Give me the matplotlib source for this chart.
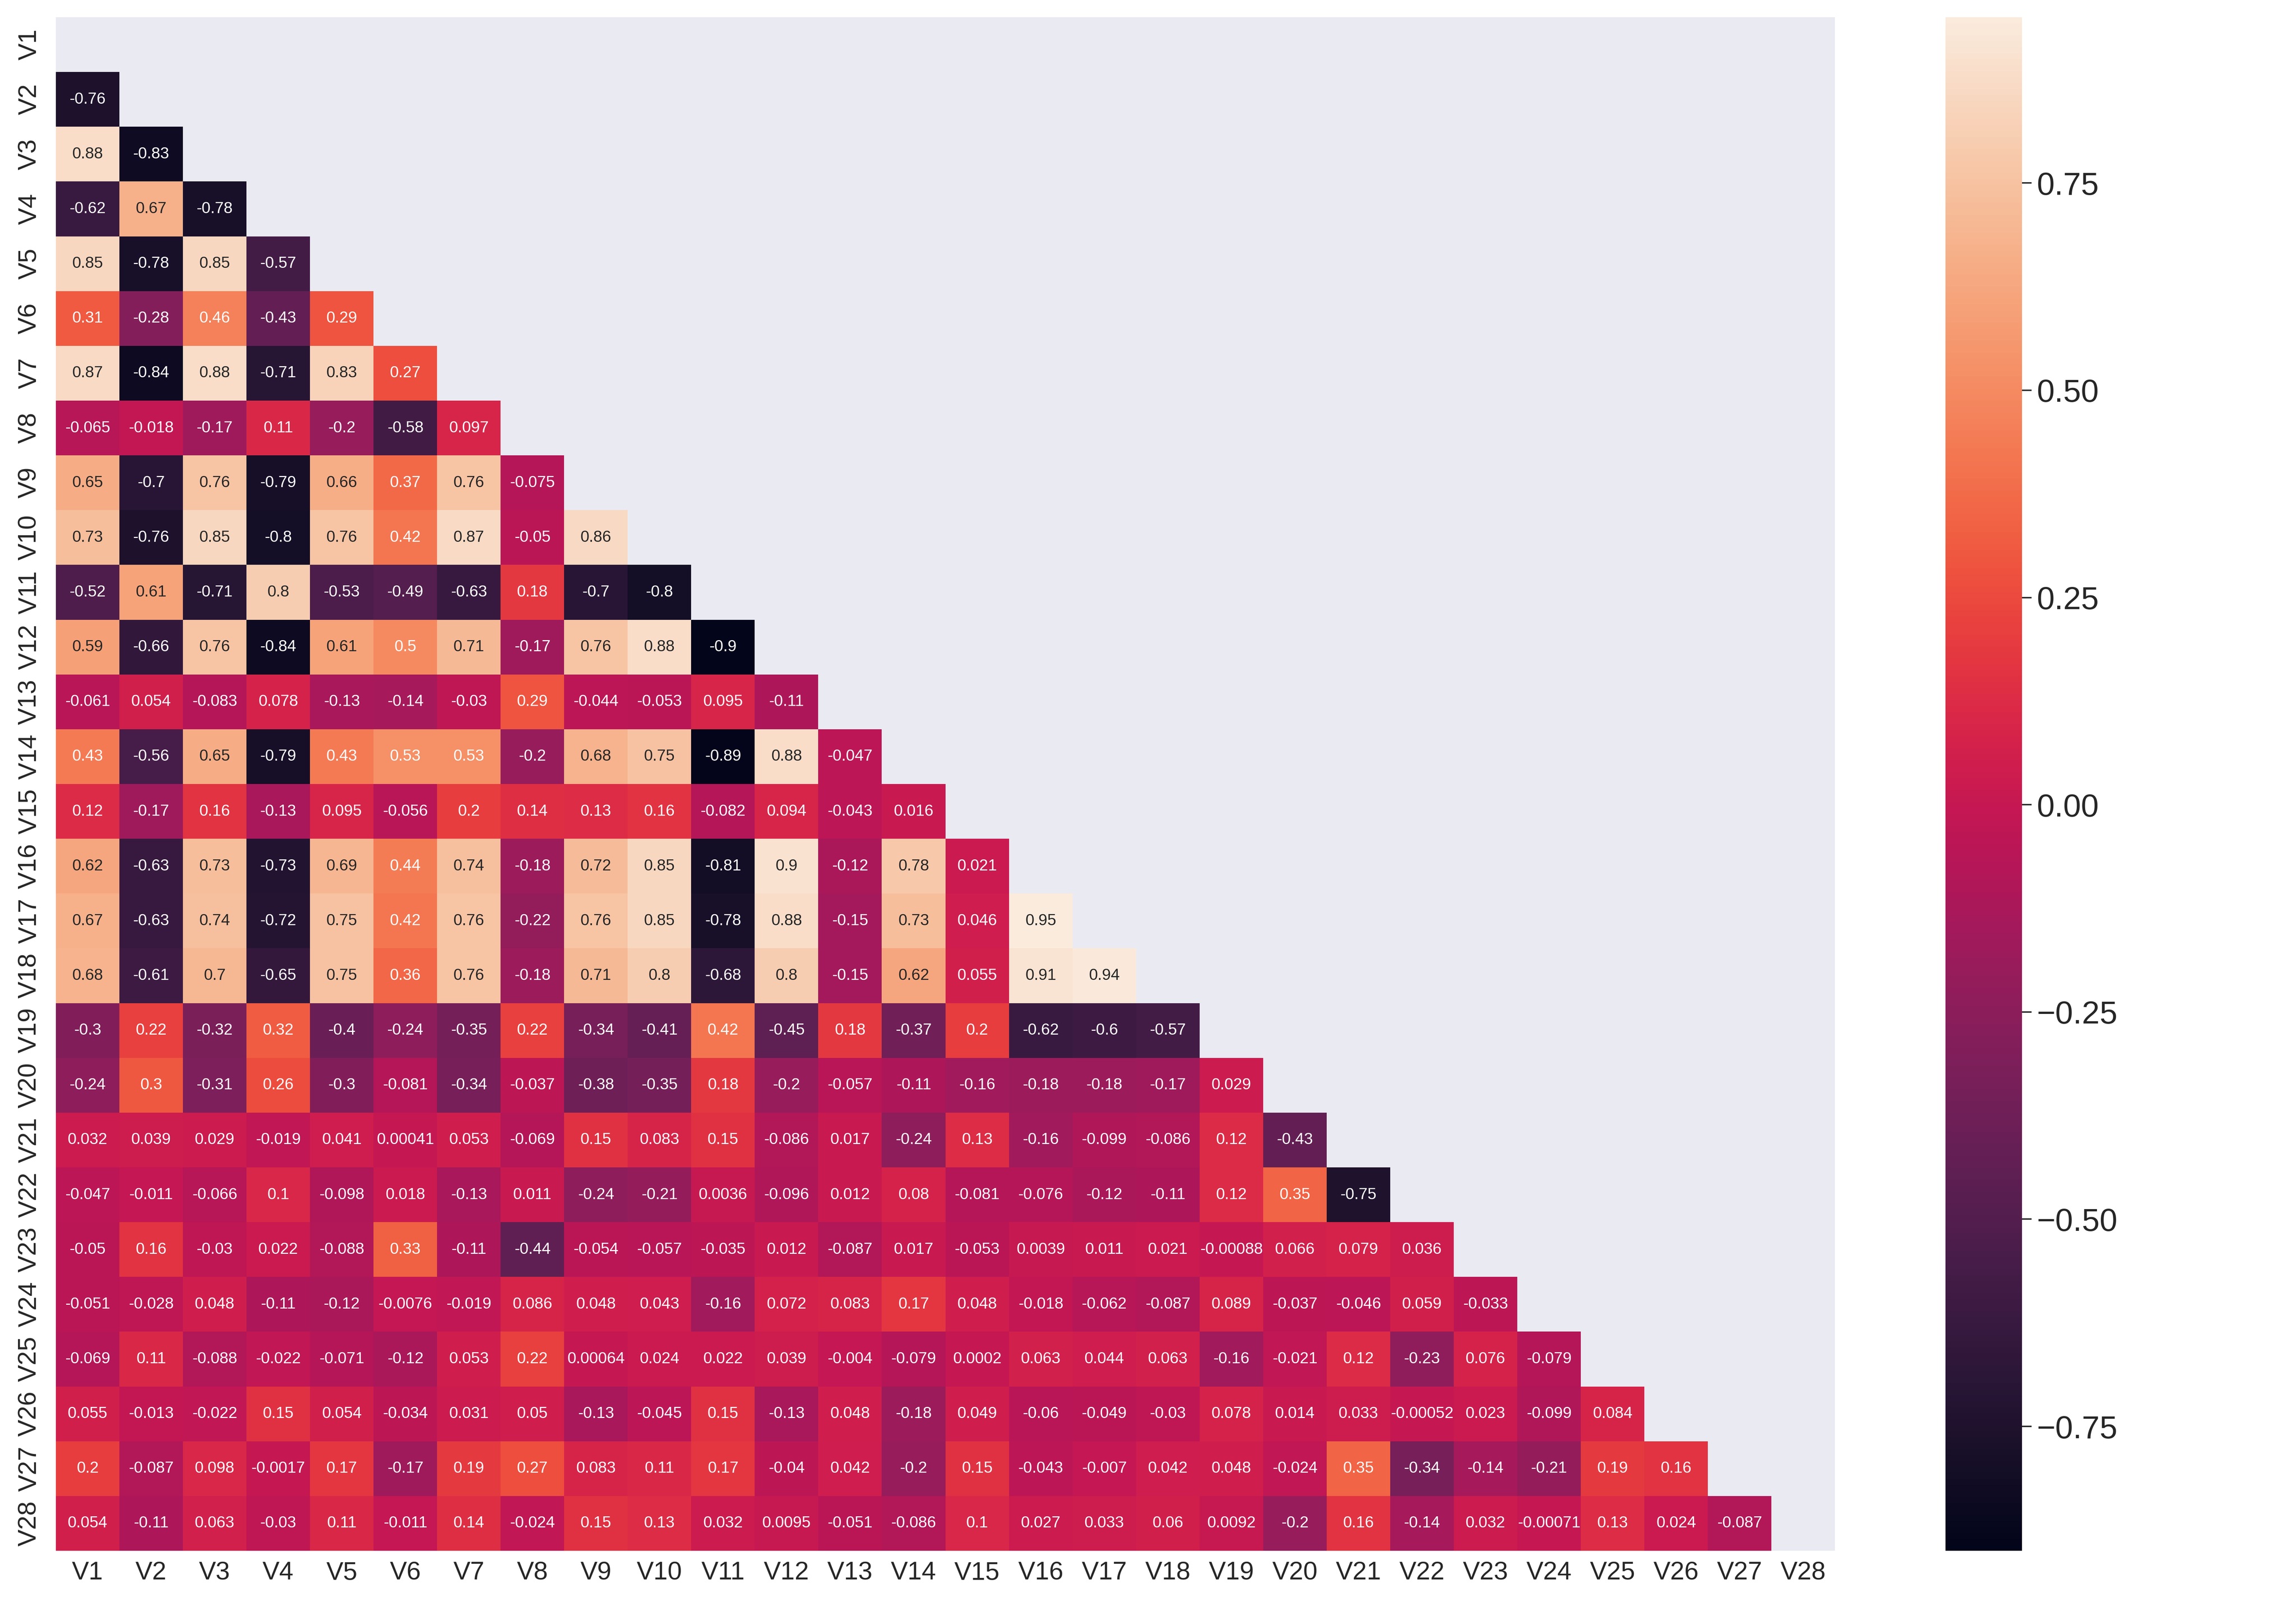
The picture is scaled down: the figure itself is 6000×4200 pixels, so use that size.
import numpy as np
import matplotlib
matplotlib.use('Agg')
import matplotlib.pyplot as plt
import seaborn as sns

#%% Données : triangle inférieur de la matrice de corrélation

labels = ['V%d' % i for i in range(1, 29)]

v2 = [-0.76]
v3 = [0.88, -0.83]
v4 = [-0.62, 0.67, -0.78]
v5 = [0.85, -0.78, 0.85, -0.57]
v6 = [0.31, -0.28, 0.46, -0.43, 0.29]
v7 = [0.87, -0.84, 0.88, -0.71, 0.83, 0.27]
v8 = [-0.065, -0.018, -0.17, 0.11, -0.2, -0.58, 0.097]
v9 = [0.65, -0.7, 0.76, -0.79, 0.66, 0.37, 0.76, -0.075]
v10 = [0.73, -0.76, 0.85, -0.8, 0.76, 0.42, 0.87, -0.05, 0.86]
v11 = [-0.52, 0.61, -0.71, 0.8, -0.53, -0.49, -0.63, 0.18, -0.7, -0.8]
v12 = [0.59, -0.66, 0.76, -0.84, 0.61, 0.5, 0.71, -0.17, 0.76, 0.88, -0.9]
v13 = [-0.061, 0.054, -0.083, 0.078, -0.13, -0.14, -0.03, 0.29, -0.044, -0.053,
       0.095, -0.11]
v14 = [0.43, -0.56, 0.65, -0.79, 0.43, 0.53, 0.53, -0.2, 0.68, 0.75, -0.89, 0.88,
       -0.047]
v15 = [0.12, -0.17, 0.16, -0.13, 0.095, -0.056, 0.2, 0.14, 0.13, 0.16, -0.082,
       0.094, -0.043, 0.016]
v16 = [0.62, -0.63, 0.73, -0.73, 0.69, 0.44, 0.74, -0.18, 0.72, 0.85, -0.81, 0.9,
       -0.12, 0.78, 0.021]
v17 = [0.67, -0.63, 0.74, -0.72, 0.75, 0.42, 0.76, -0.22, 0.76, 0.85, -0.78, 0.88,
       -0.15, 0.73, 0.046, 0.95]
v18 = [0.68, -0.61, 0.7, -0.65, 0.75, 0.36, 0.76, -0.18, 0.71, 0.8, -0.68, 0.8,
       -0.15, 0.62, 0.055, 0.91, 0.94]
v19 = [-0.3, 0.22, -0.32, 0.32, -0.4, -0.24, -0.35, 0.22, -0.34, -0.41, 0.42, -0.45,
       0.18, -0.37, 0.2, -0.62, -0.6, -0.57]
v20 = [-0.24, 0.3, -0.31, 0.26, -0.3, -0.081, -0.34, -0.037, -0.38, -0.35, 0.18,
       -0.2, -0.057, -0.11, -0.16, -0.18, -0.18, -0.17, 0.029]
v21 = [0.032, 0.039, 0.029, -0.019, 0.041, 0.00041, 0.053, -0.069, 0.15, 0.083,
       0.15, -0.086, 0.017, -0.24, 0.13, -0.16, -0.099, -0.086, 0.12, -0.43]
v22 = [-0.047, -0.011, -0.066, 0.1, -0.098, 0.018, -0.13, 0.011, -0.24, -0.21,
       0.0036, -0.096, 0.012, 0.08, -0.081, -0.076, -0.12, -0.11, 0.12, 0.35, -0.75]
v23 = [-0.05, 0.16, -0.03, 0.022, -0.088, 0.33, -0.11, -0.44, -0.054, -0.057,
       -0.035, 0.012, -0.087, 0.017, -0.053, 0.0039, 0.011, 0.021, -0.00088, 0.066,
       0.079, 0.036]
v24 = [-0.051, -0.028, 0.048, -0.11, -0.12, -0.0076, -0.019, 0.086, 0.048, 0.043,
       -0.16, 0.072, 0.083, 0.17, 0.048, -0.018, -0.062, -0.087, 0.089, -0.037,
       -0.046, 0.059, -0.033]
v25 = [-0.069, 0.11, -0.088, -0.022, -0.071, -0.12, 0.053, 0.22, 0.00064, 0.024,
       0.022, 0.039, -0.004, -0.079, 0.0002, 0.063, 0.044, 0.063, -0.16, -0.021,
       0.12, -0.23, 0.076, -0.079]
v26 = [0.055, -0.013, -0.022, 0.15, 0.054, -0.034, 0.031, 0.05, -0.13, -0.045,
       0.15, -0.13, 0.048, -0.18, 0.049, -0.06, -0.049, -0.03, 0.078, 0.014, 0.033,
       -0.00052, 0.023, -0.099, 0.084]
v27 = [0.2, -0.087, 0.098, -0.0017, 0.17, -0.17, 0.19, 0.27, 0.083, 0.11, 0.17,
       -0.04, 0.042, -0.2, 0.15, -0.043, -0.007, 0.042, 0.048, -0.024, 0.35, -0.34,
       -0.14, -0.21, 0.19, 0.16]
v28 = [0.054, -0.11, 0.063, -0.03, 0.11, -0.011, 0.14, -0.024, 0.15, 0.13, 0.032,
       0.0095, -0.051, -0.086, 0.1, 0.027, 0.033, 0.06, 0.0092, -0.2, 0.16, -0.14,
       0.032, -0.00071, 0.13, 0.024, -0.087]

lower_rows = [v2, v3, v4, v5, v6, v7, v8, v9, v10, v11, v12, v13, v14, v15, v16,
              v17, v18, v19, v20, v21, v22, v23, v24, v25, v26, v27, v28]

# Matrice symétrique complète
n = len(labels)
corr = np.eye(n)
for i, row in enumerate(lower_rows, start=1):
    corr[i, :len(row)] = row
    corr[:len(row), i] = row

mask = np.triu(np.ones_like(corr, dtype=bool))

#%% Tracé

sns.set_style('darkgrid')
plt.rcParams['font.family'] = ['Liberation Sans', 'DejaVu Sans']

fig = plt.figure(figsize=(20, 14), dpi=300)
ax = fig.add_axes([0.0243, 0.035, 0.7749, 0.9543])
cax = fig.add_axes([0.8473, 0.035, 0.0333, 0.9543])

sns.heatmap(corr, mask=mask, annot=True, fmt='.2g', annot_kws={'size': 10},
            xticklabels=labels, yticklabels=labels, ax=ax, cbar_ax=cax)

ax.grid(False)
ax.set_xticklabels(labels, rotation=0, fontsize=16)
ax.set_yticklabels(labels, rotation=90, va='center', fontsize=16)
ax.tick_params(axis='x', length=0, pad=6.5)
ax.tick_params(axis='y', length=0, pad=9)

cax.grid(False)
cax.tick_params(labelsize=20, length=6, width=0.9, pad=3.5, color='.15')

fig.savefig('out.png', dpi=300)
